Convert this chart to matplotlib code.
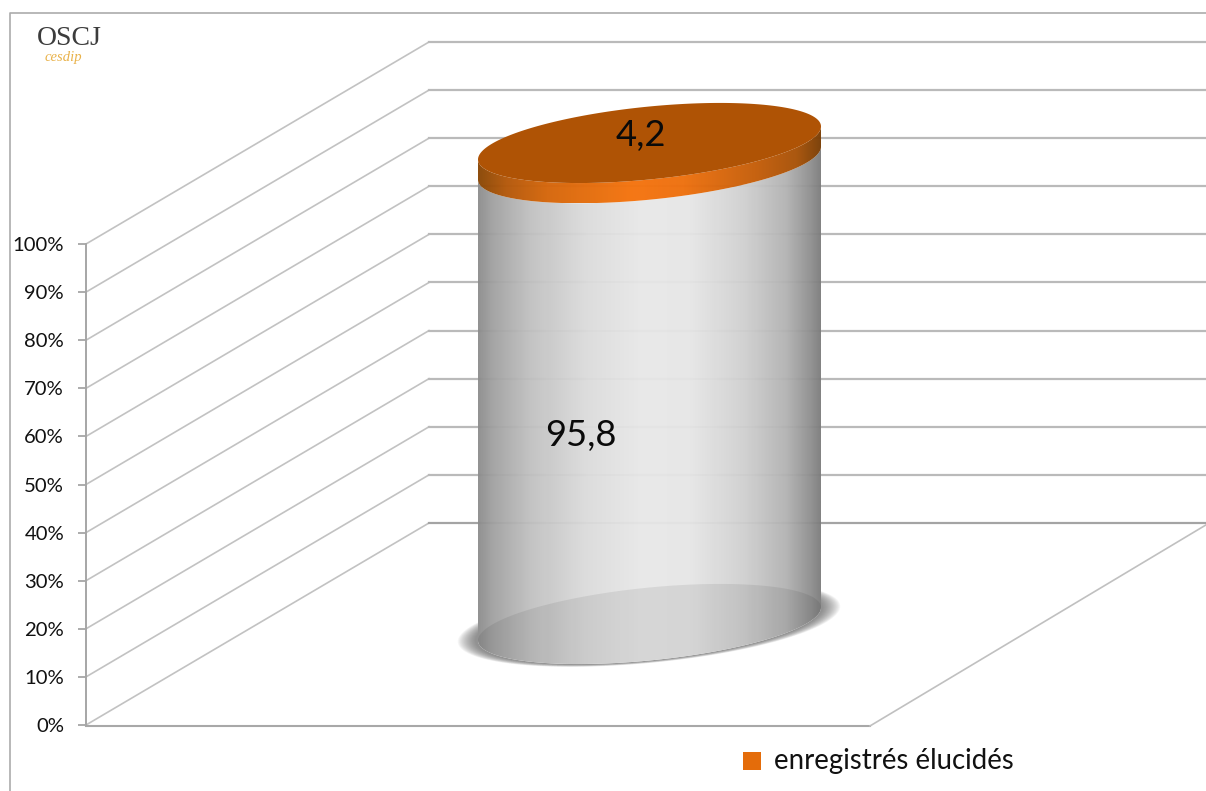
import numpy as np
import matplotlib
matplotlib.use("Agg")
import matplotlib.pyplot as plt
from matplotlib.colors import LinearSegmentedColormap
from matplotlib.patches import Polygon

series_names = ["enregistrés non élucidés", "enregistrés élucidés"]
series_values = [95.8, 4.2]
value_labels = ["95,8", "4,2"]
tick_values = [0, 10, 20, 30, 40, 50, 60, 70, 80, 90, 100]
tick_labels = ["0%", "10%", "20%", "30%", "40%", "50%", "60%", "70%", "80%", "90%", "100%"]

PX_PER_PCT = 4.81
Y0 = 725.0
W, H = 1206, 791
DEPTH_X, DEPTH_V = 343, 42.0
AXIS_X = 86
FLOOR_END = 870

CX, RX = 649.5, 171.5
BAR_BASE = 21.0
TILT = 16.5 / PX_PER_PCT
MINOR = 36.5 / PX_PER_PCT


def to_v(py):
    return (Y0 - py) / PX_PER_PCT


plt.rcParams["font.family"] = ["Lato", "DejaVu Sans"]
fig = plt.figure(figsize=(W / 100, H / 100), dpi=100, facecolor="white")
ax = fig.add_axes([0, 0, 1, 1])
ax.set_xlim(0, W)
ax.set_ylim(to_v(H), to_v(0))
ax.set_xticks([])
ax.set_yticks(tick_values)
ax.set_yticklabels(tick_labels)
ax.tick_params(axis="y", length=5.8, width=1.3, color="#a6a6a6", pad=10,
               labelsize=14.6, labelcolor="#111111")
for name in ("top", "right", "bottom"):
    ax.spines[name].set_visible(False)
ax.spines["left"].set_position(("data", AXIS_X))
ax.spines["left"].set_bounds(0, 100)
ax.spines["left"].set_color("#a6a6a6")
ax.spines["left"].set_linewidth(1.4)
ax.patch.set_visible(False)

ax.plot([10.0, 10.0, W], [to_v(H), to_v(13), to_v(13)], color="#ababab", lw=1.2, zorder=1,
        clip_on=False)


def ellipse(vc, sx=1.0, sy=1.0, n=240, t0=0.0, t1=2 * np.pi, cx=CX):
    t = np.linspace(t0, t1, n)
    return (cx + RX * sx * np.cos(t),
            vc + sy * (TILT * np.cos(t) - MINOR * np.sin(t)))


def strip(stops, alpha=1.0):
    cmap = LinearSegmentedColormap.from_list("g", stops)
    g = cmap(np.linspace(0, 1, 512))[None, :, :].copy()
    g[..., 3] = alpha
    return g


def fill_gradient(xs, vs, grad, z):
    poly = Polygon(np.column_stack([xs, vs]), closed=True, transform=ax.transData,
                   fc="none", ec="none")
    ax.add_patch(poly)
    im = ax.imshow(grad, extent=[CX - RX, CX + RX, min(vs), max(vs)], aspect="auto",
                   interpolation="bilinear", zorder=z, origin="lower")
    im.set_clip_path(poly)


v_split = BAR_BASE + series_values[0]
v_top = v_split + series_values[1]

# soft shadow below the cylinder
for i in range(18):
    f = i / 17
    x, v = ellipse(BAR_BASE, 1.115 - 0.10 * f, 1.07 - 0.06 * f, cx=CX - 0.5)
    ax.fill(x, v, color="#555555", alpha=0.05, lw=0, zorder=1.5)

# opaque base so the shadow does not show through the translucent body
xb, vb = ellipse(BAR_BASE, t0=0, t1=np.pi)
xt, vt = ellipse(v_split, t0=np.pi, t1=0)
ax.fill(np.r_[xb, xt], np.r_[vb, vt], color="white", lw=0, zorder=1.7)

# walls and floor
for v in tick_values:
    back = v + DEPTH_V
    c = "#a4a4a4" if v == 0 else "#bababa"
    ax.plot([AXIS_X, AXIS_X + DEPTH_X], [v, back], color="#c2c2c2", lw=1.2, zorder=2)
    ax.plot([AXIS_X + DEPTH_X, W], [back, back], color=c, lw=1.6, zorder=2)
ax.plot([AXIS_X, FLOOR_END], [-0.2, -0.2], color="#a8a8a8", lw=1.5, zorder=2)
ax.plot([FLOOR_END, W], [-0.2, DEPTH_V - 0.4], color="#c0c0c0", lw=1.2, zorder=2)

grey_stops = [(0, "#8c8c8c"), (0.04, "#a0a0a0"), (0.15, "#c0c0c0"), (0.32, "#dcdcdc"),
              (0.48, "#e8e8e8"), (0.62, "#e6e6e6"), (0.78, "#cfcfcf"), (0.9, "#b2b2b2"),
              (0.97, "#8f8f8f"), (1, "#7c7c7c")]
orange_stops = [(0, "#8a4706"), (0.08, "#b3580a"), (0.2, "#d5660b"), (0.45, "#f5740e"),
                (0.6, "#ee700e"), (0.8, "#c75f0a"), (0.93, "#a85208"), (1, "#7a3e05")]

# grey series: front of the cylinder
fill_gradient(np.r_[xb, xt], np.r_[vb, vt], strip(grey_stops, 0.95), 4)

# darker floor seen through the cylinder
xe, ve = ellipse(BAR_BASE)
fill_gradient(xe, ve, strip([(0, "#000000"), (1, "#000000")], 0.075), 5)

# orange series: band and cap
xb2, vb2 = ellipse(v_split, t0=0, t1=np.pi)
xt2, vt2 = ellipse(v_top, t0=np.pi, t1=0)
fill_gradient(np.r_[xb2, xt2], np.r_[vb2, vt2], strip(orange_stops, 0.97), 6)
xc, vc = ellipse(v_top)
ax.fill(xc, vc, color="#af5305", lw=0, zorder=7)

# data labels
ax.text(581, to_v(436), value_labels[0], fontsize=26.2, ha="center", va="center",
        color="#0a0a0a", zorder=8)
ax.text(641, to_v(136), value_labels[1], fontsize=26.2, ha="center", va="center",
        color="#0a0a0a", zorder=8)

# legend
ax.scatter([751.5], [to_v(760.5)], marker="s", s=150, color="#e46c0a", linewidths=0, zorder=8)
ax.text(774, to_v(761.5), series_names[1], fontsize=19.9, ha="left", va="center",
        color="#111111", zorder=8)

# logo
ax.text(37, to_v(39), "OSCJ", family="Liberation Serif", fontsize=20, color="#3c3c3c",
        ha="left", va="center", zorder=8)
ax.text(45, to_v(58), "cesdip", family="Liberation Serif", style="italic", fontsize=10.5,
        color="#e9b24a", ha="left", va="center", zorder=8)

ax.set_xlim(0, W)
ax.set_ylim(to_v(H), to_v(0))
fig.savefig("out.png", dpi=100, facecolor="white")
